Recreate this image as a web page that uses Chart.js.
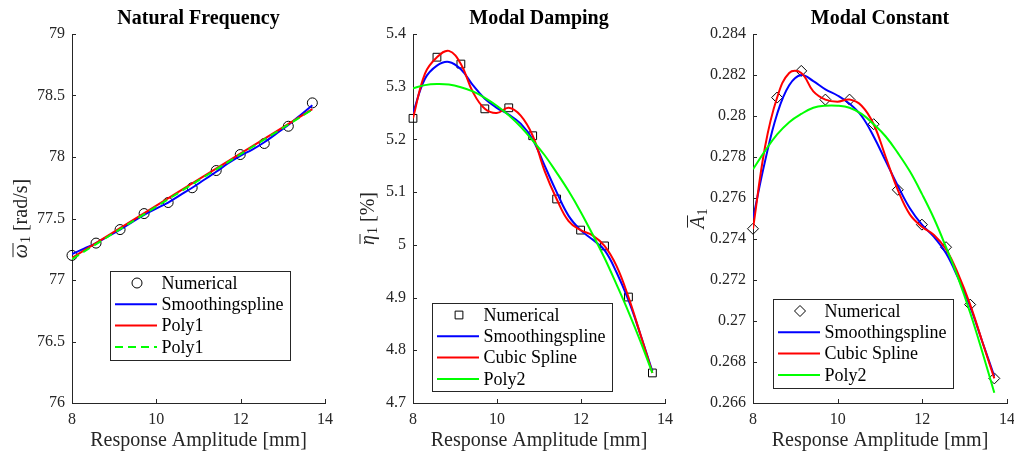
<!DOCTYPE html>
<html>
<head>
<meta charset="utf-8">
<script src="https://cdn.jsdelivr.net/npm/chart.js@4.4.0/dist/chart.umd.min.js"></script>
<style>
  body { margin: 0; background: #fff; overflow: hidden; width: 1014px; height: 454px; position: relative; }
  canvas { position: absolute; top: 0; }
</style>
</head>
<body>
<canvas id="freqChart" width="340" height="454" style="left:0px"></canvas>
<canvas id="dampChart" width="340" height="454" style="left:340px"></canvas>
<canvas id="constChart" width="345" height="454" style="left:680px"></canvas>
<script>
// response amplitude of the numerical points [mm]
const ampNum = [8.00, 8.57, 9.14, 9.71, 10.28, 10.85, 11.42, 11.99, 12.56, 13.13, 13.70];
const ampFit = [8.00, 8.285, 8.57, 8.855, 9.14, 9.425, 9.71, 9.995, 10.28, 10.565, 10.85,
                11.135, 11.42, 11.705, 11.99, 12.275, 12.56, 12.845, 13.13, 13.415, 13.70];
const ampEnds = [8.00, 13.70];

// natural frequency [rad/s]
const freqNum = [77.20, 77.30, 77.41, 77.54, 77.63, 77.75, 77.89, 78.02, 78.11, 78.25, 78.44];
const freqSpline = [77.21, 77.255, 77.30, 77.355, 77.41, 77.47, 77.53, 77.58, 77.63, 77.69, 77.75,
                    77.815, 77.88, 77.95, 78.01, 78.06, 78.12, 78.19, 78.26, 78.34, 78.42];
const freqPoly1 = [77.18, 78.39];
const freqPoly1b = [77.17, 78.385];

// modal damping [%]
const dampNum = [5.240, 5.356, 5.343, 5.258, 5.260, 5.207, 5.087, 5.028, 4.998, 4.901, 4.757];
const dampSpline = [5.250, 5.315, 5.340, 5.347, 5.333, 5.303, 5.277, 5.260, 5.247, 5.230, 5.200,
                    5.150, 5.100, 5.055, 5.028, 5.010, 4.990, 4.948, 4.895, 4.830, 4.760];
const dampCubic = [5.240, 5.325, 5.356, 5.368, 5.343, 5.290, 5.258, 5.250, 5.260, 5.245, 5.207,
                   5.140, 5.087, 5.045, 5.028, 5.018, 4.998, 4.960, 4.901, 4.830, 4.757];
const dampPoly2 = [5.297, 5.303, 5.305, 5.304, 5.299, 5.291, 5.279, 5.264, 5.246, 5.224, 5.198,
                   5.170, 5.137, 5.102, 5.063, 5.020, 4.975, 4.925, 4.873, 4.817, 4.757];

// modal constant
const constNum = [0.2745, 0.2809, 0.2822, 0.2808, 0.2808, 0.2796, 0.2764, 0.2747, 0.2736, 0.2708, 0.2672];
const constSpline = [0.2750, 0.2778, 0.2801, 0.2815, 0.2820, 0.2817, 0.2813, 0.2810, 0.2806, 0.2800, 0.2790,
                     0.2778, 0.2766, 0.2755, 0.2747, 0.2741, 0.2733, 0.2721, 0.2707, 0.2690, 0.2673];
const constCubic = [0.2745, 0.2785, 0.2809, 0.2821, 0.2821, 0.2812, 0.2808, 0.2807, 0.2808, 0.2805, 0.2796,
                    0.2780, 0.2764, 0.2752, 0.2746, 0.2742, 0.2735, 0.2723, 0.2708, 0.2690, 0.2672];
const constPoly2 = [0.2774, 0.2783, 0.2791, 0.2797, 0.2801, 0.2804, 0.2805, 0.2805, 0.2804, 0.2801, 0.2796,
                    0.2790, 0.2782, 0.2773, 0.2762, 0.2750, 0.2736, 0.2721, 0.2704, 0.2685, 0.2665];

const axisColor = "#262626";
const serif = "'Liberation Serif', 'Times New Roman', serif";
Chart.defaults.font.family = serif;
Chart.defaults.color = axisColor;

function pts(xs, ys) {
  return xs.map((x, i) => ({ x: x, y: ys[i] }));
}

function numSet(ys, style, radius) {
  return {
    label: "Numerical",
    data: pts(ampNum, ys),
    showLine: false,
    pointStyle: style,
    pointRadius: radius,
    pointBorderWidth: 1,
    pointBorderColor: "#000",
    pointBackgroundColor: "rgba(0,0,0,0)",
    clip: false,
    order: 5,
  };
}

function lineSet(label, xs, ys, color, order, dash) {
  return {
    label: label,
    data: pts(xs, ys),
    borderColor: color,
    borderWidth: 2,
    borderDash: dash || [],
    pointRadius: 0,
    tension: 0.4,
    fill: false,
    order: order,
  };
}

const fmt = (v) => String(parseFloat(Number(v).toFixed(4)));

// MATLAB style ticks pointing into the plot
const inwardTicks = {
  id: "inwardTicks",
  beforeDatasetsDraw(chart) {
    const { ctx, chartArea: a } = chart;
    const x = chart.scales.x, y = chart.scales.y;
    ctx.save();
    ctx.strokeStyle = axisColor;
    ctx.lineWidth = 1;
    ctx.beginPath();
    x.ticks.forEach((t) => {
      const px = Math.round(x.getPixelForValue(t.value)) + 0.5;
      ctx.moveTo(px, a.bottom);
      ctx.lineTo(px, a.bottom - 4);
    });
    y.ticks.forEach((t) => {
      const py = Math.round(y.getPixelForValue(t.value)) + 0.5;
      ctx.moveTo(a.left, py);
      ctx.lineTo(a.left + 4, py);
    });
    ctx.stroke();
    ctx.restore();
  },
};

// y label like \overline{\omega}_1 [rad/s], drawn rotated
const yLabel = {
  id: "yLabel",
  afterDraw(chart, args, o) {
    const ctx = chart.ctx;
    const a = chart.chartArea;
    const fSym = "italic 20px " + serif, fSub = "14px " + serif, fTxt = "20px " + serif;
    ctx.save();
    ctx.translate(o.x, (a.top + a.bottom) / 2);
    ctx.rotate(-Math.PI / 2);
    ctx.fillStyle = axisColor;
    ctx.strokeStyle = axisColor;
    ctx.textBaseline = "alphabetic";
    ctx.font = fSym; const w1 = ctx.measureText(o.sym).width;
    ctx.font = fSub; const w2 = ctx.measureText("1").width;
    ctx.font = fTxt; const w3 = o.unit ? ctx.measureText(" " + o.unit).width : 0;
    let x = -(w1 + w2 + 1 + w3) / 2;
    const base = 7;
    ctx.font = fSym;
    ctx.fillText(o.sym, x, base);
    ctx.lineWidth = 1;
    ctx.beginPath();
    ctx.moveTo(x + 1, base - o.bar);
    ctx.lineTo(x + w1 + 1, base - o.bar);
    ctx.stroke();
    x += w1 + 1;
    ctx.font = fSub;
    ctx.fillText("1", x, base + 3);
    x += w2;
    if (o.unit) {
      ctx.font = fTxt;
      ctx.fillText(" " + o.unit, x, base);
    }
    ctx.restore();
  },
};

// legend box placed inside the plot
const boxLegend = {
  id: "boxLegend",
  afterDraw(chart, args, opts) {
    const ctx = chart.ctx;
    ctx.save();
    ctx.fillStyle = "#fff";
    ctx.fillRect(opts.left, opts.top, opts.width, opts.height);
    ctx.strokeStyle = axisColor;
    ctx.lineWidth = 1;
    ctx.strokeRect(opts.left + 0.5, opts.top + 0.5, opts.width, opts.height);
    ctx.font = "18px " + serif;
    ctx.textBaseline = "middle";
    chart.data.datasets.forEach((ds, i) => {
      const yy = opts.top + 12 + i * 21.3;
      if (ds.showLine === false) {
        ctx.strokeStyle = "#000";
        ctx.fillStyle = "rgba(0,0,0,0)";
        ctx.lineWidth = 1;
        Chart.helpers.drawPoint(ctx, { pointStyle: ds.pointStyle, radius: ds.pointRadius, borderWidth: 1, rotation: 0 }, opts.left + 27, yy);
      } else {
        ctx.strokeStyle = ds.borderColor;
        ctx.lineWidth = ds.borderWidth;
        ctx.setLineDash(ds.borderDash);
        ctx.beginPath();
        ctx.moveTo(opts.left + 5, yy);
        ctx.lineTo(opts.left + 47, yy);
        ctx.stroke();
        ctx.setLineDash([]);
      }
      ctx.fillStyle = "#000";
      ctx.fillText(ds.label, opts.left + 51.5, yy + 1);
    });
    ctx.restore();
  },
};

function makeChart(id, title, datasets, yCfg, layout) {
  return new Chart(document.getElementById(id), {
    type: "line",
    data: { datasets: datasets },
    options: {
      responsive: false,
      animation: false,
      layout: { padding: { left: 0, right: layout.right, top: 0, bottom: 0 } },
      scales: {
        x: {
          type: "linear",
          min: 8,
          max: 14,
          ticks: { stepSize: 2, padding: 7, font: { size: 16 }, color: axisColor, callback: fmt },
          grid: { display: false, drawTicks: false },
          border: { display: true, color: axisColor, width: 1 },
          title: { display: true, text: "Response Amplitude [mm]", font: { size: 20 }, color: axisColor, padding: { top: 0, bottom: 1 } },
          afterFit(s) { s.height = 51; },
        },
        y: {
          type: "linear",
          min: yCfg.min,
          max: yCfg.max,
          ticks: { stepSize: yCfg.step, padding: 7, font: { size: 16 }, color: axisColor, callback: fmt },
          grid: { display: false, drawTicks: false },
          border: { display: true, color: axisColor, width: 1 },
          afterFit(s) { s.width = layout.yWidth; },
        },
      },
      plugins: {
        legend: { display: false },
        tooltip: { enabled: false },
        title: {
          display: true,
          text: title,
          fullSize: false,
          color: "#000",
          font: { size: 20, weight: "bold" },
          padding: { top: 7, bottom: 3 },
        },
        yLabel: yCfg.label,
        boxLegend: layout.legend,
      },
    },
    plugins: [inwardTicks, yLabel, boxLegend],
  });
}

makeChart("freqChart", "Natural Frequency", [
  numSet(freqNum, "circle", 5),
  lineSet("Smoothingspline", ampFit, freqSpline, "#0000ff", 4),
  lineSet("Poly1", ampEnds, freqPoly1, "#ff0000", 3),
  lineSet("Poly1", ampEnds, freqPoly1b, "#00ff00", 2, [8, 5]),
], { min: 76, max: 79, step: 0.5, label: { x: 20, sym: "ω", unit: "[rad/s]", bar: 14 } },
   { right: 12, yWidth: 72, legend: { left: 110, top: 271, width: 180, height: 89 } });

makeChart("dampChart", "Modal Damping", [
  numSet(dampNum, "rect", 5.5),
  lineSet("Smoothingspline", ampFit, dampSpline, "#0000ff", 4),
  lineSet("Cubic Spline", ampFit, dampCubic, "#ff0000", 3),
  lineSet("Poly2", ampFit, dampPoly2, "#00ff00", 2),
], { min: 4.7, max: 5.4, step: 0.1, label: { x: 27, sym: "η", unit: "[%]", bar: 14 } },
   { right: 13, yWidth: 73, legend: { left: 92, top: 303, width: 180, height: 88 } });

makeChart("constChart", "Modal Constant", [
  numSet(constNum, "rectRot", 5.5),
  lineSet("Smoothingspline", ampFit, constSpline, "#0000ff", 4),
  lineSet("Cubic Spline", ampFit, constCubic, "#ff0000", 3),
  lineSet("Poly2", ampFit, constPoly2, "#00ff00", 2),
], { min: 0.266, max: 0.284, step: 0.002, label: { x: 17, sym: "A", unit: "", bar: 16.5 } },
   { right: 18, yWidth: 73, legend: { left: 93, top: 299, width: 180, height: 89 } });
</script>
</body>
</html>
